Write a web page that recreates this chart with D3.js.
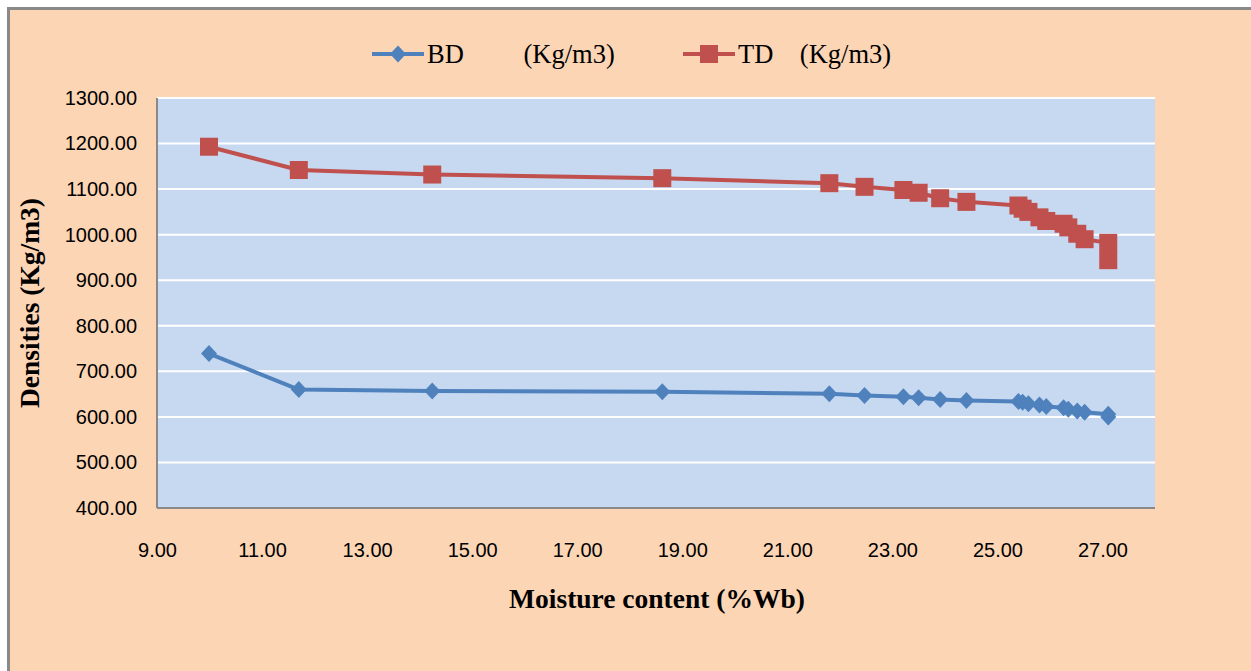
<!DOCTYPE html>
<html>
<head>
<meta charset="utf-8">
<script src="https://cdn.jsdelivr.net/npm/d3@7"></script>
<style>
html, body { margin: 0; background: #ffffff; overflow: hidden; }
svg { display: block; }
.tick text { font-family: "Liberation Sans", Arial, sans-serif; font-size: 20px; fill: #000; }
.axis-title { font-family: "Liberation Serif", "Times New Roman", serif; font-weight: bold; font-size: 27.5px; fill: #000; }
.legend-text { font-family: "Liberation Serif", "Times New Roman", serif; font-size: 26.5px; fill: #000; white-space: pre; }
</style>
</head>
<body>
<div class="app"></div>
<script>
'use strict'

var width = 1251;
var height = 671;

// moisture content (%Wb)
var moisture = [9.99, 11.70, 14.24, 18.62, 21.80, 22.47, 23.21, 23.50, 23.91, 24.41,
	25.40, 25.48, 25.59, 25.80, 25.93, 26.26, 26.35, 26.52, 26.66, 27.11, 27.11];

// bulk density (Kg/m3)
var bdValues = [739, 660, 657, 655, 651, 647, 644, 642, 638, 636,
	634, 632, 629, 626, 623, 620, 617, 613, 610, 606, 600];

// true density (Kg/m3)
var tdValues = [1193, 1142, 1132, 1124, 1113, 1105, 1098, 1092, 1080, 1072,
	1064, 1057, 1050, 1038, 1030, 1024, 1016, 1002, 990, 982, 944];

var xTicks = [9, 11, 13, 15, 17, 19, 21, 23, 25, 27];
var yTicks = [400, 500, 600, 700, 800, 900, 1000, 1100, 1200, 1300];

var seriesNames = ["BD         (Kg/m3)", "TD    (Kg/m3)"];
var seriesColors = ["#4F81BD", "#C0504D"];

// plot area
var plotLeft = 157, plotTop = 98, plotRight = 1155, plotBottom = 508;

var svg = d3.select(".app")
	.append("svg")
	.attr("width", width)
	.attr("height", height);

// chart background with border on top / left
svg.append("rect")
	.attr("x", 8.5).attr("y", 8.5)
	.attr("width", width + 40).attr("height", height + 40)
	.attr("fill", "#FCD5B5")
	.attr("stroke", "#898989")
	.attr("stroke-width", 3);

svg.append("rect")
	.attr("x", plotLeft).attr("y", plotTop)
	.attr("width", plotRight - plotLeft).attr("height", plotBottom - plotTop)
	.attr("fill", "#C6D9F1");

var scaleX = d3.scaleLinear().domain([9, 28]).range([plotLeft, plotRight]);
var scaleY = d3.scaleLinear().domain([400, 1300]).range([plotBottom, plotTop]);

// horizontal grid lines
svg.append("g")
	.selectAll("line")
	.data(yTicks)
	.enter().append("line")
	.attr("x1", plotLeft).attr("x2", plotRight)
	.attr("y1", function(d){ return scaleY(d); })
	.attr("y2", function(d){ return scaleY(d); })
	.attr("stroke", "#ffffff")
	.attr("stroke-width", 2);

var yAxis = d3.axisLeft(scaleY)
	.tickValues(yTicks)
	.tickSize(0)
	.tickPadding(20)
	.tickFormat(d3.format(".2f"));

var xAxis = d3.axisBottom(scaleX)
	.tickValues(xTicks)
	.tickSize(0)
	.tickPadding(35)
	.tickFormat(d3.format(".2f"));

svg.append("g")
	.attr("transform", "translate(" + plotLeft + ",0)")
	.call(yAxis)
	.call(function(g){ g.select(".domain").remove(); });

svg.append("g")
	.attr("transform", "translate(0," + plotBottom + ")")
	.call(xAxis)
	.call(function(g){ g.select(".domain").remove(); });

// axis lines
svg.append("line")
	.attr("x1", plotLeft).attr("x2", plotLeft).attr("y1", plotTop).attr("y2", plotBottom)
	.attr("stroke", "#898989").attr("stroke-width", 2);
svg.append("line")
	.attr("x1", plotLeft).attr("x2", plotRight).attr("y1", plotBottom).attr("y2", plotBottom)
	.attr("stroke", "#898989").attr("stroke-width", 2);

var line = d3.line()
	.x(function(d){ return scaleX(d[0]); })
	.y(function(d){ return scaleY(d[1]); });

var diamond = "M0,-8.5L8,0L0,8.5L-8,0Z";
var square = "M-9,-9H9V9H-9Z";

function drawSeries(values, color, marker) {
	var pts = moisture.map(function(m, i){ return [m, values[i]]; });
	svg.append("path")
		.attr("d", line(pts))
		.attr("fill", "none")
		.attr("stroke", color)
		.attr("stroke-width", 4)
		.attr("stroke-linejoin", "round");
	svg.append("g")
		.selectAll("path")
		.data(pts)
		.enter().append("path")
		.attr("d", marker)
		.attr("transform", function(d){ return "translate(" + scaleX(d[0]) + "," + scaleY(d[1]) + ")"; })
		.attr("fill", color);
}

drawSeries(bdValues, seriesColors[0], diamond);
drawSeries(tdValues, seriesColors[1], square);

// legend
var legend = [
	{x: 372, marker: diamond},
	{x: 683, marker: square}
];
legend.forEach(function(l, i){
	var g = svg.append("g").attr("transform", "translate(" + l.x + ",54)");
	g.append("line")
		.attr("x1", 0).attr("x2", 52)
		.attr("stroke", seriesColors[i]).attr("stroke-width", 4);
	g.append("path")
		.attr("d", l.marker)
		.attr("transform", "translate(26,0)")
		.attr("fill", seriesColors[i]);
	g.append("text")
		.attr("class", "legend-text")
		.attr("x", 55).attr("y", 9)
		.text(seriesNames[i]);
});

// axis titles
svg.append("text")
	.attr("class", "axis-title")
	.attr("text-anchor", "middle")
	.attr("transform", "translate(39," + ((plotTop + plotBottom) / 2) + ") rotate(-90)")
	.text("Densities (Kg/m3)");

svg.append("text")
	.attr("class", "axis-title")
	.attr("text-anchor", "middle")
	.attr("x", 657).attr("y", 608)
	.text("Moisture content (%Wb)");
</script>
</body>
</html>
